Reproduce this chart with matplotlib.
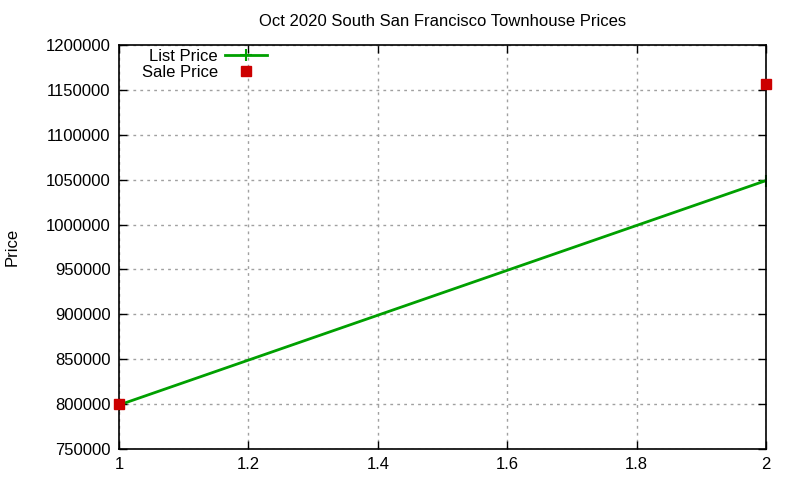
import matplotlib
matplotlib.use("Agg")
import matplotlib.pyplot as plt

plt.rcParams['font.family'] = ['Liberation Sans', 'DejaVu Sans']

x_list = [1, 2]
list_price = [799000, 1049000]
x_sale = [1, 2]
sale_price = [800000, 1157000]

fig = plt.figure(figsize=(8, 4.8), dpi=100)
ax = fig.add_axes([0.14875, 0.0646, 0.80875, 0.8416])

ax.plot(x_list, list_price, color='#00a000', linewidth=2, marker='+',
        markersize=9, markeredgewidth=1.5, label='List Price')
ax.plot(x_sale, sale_price, linestyle='none', marker='s', color='#cc0000',
        markersize=7, label='Sale Price', clip_on=False, zorder=5)

ax.set_xlim(1, 2)
ax.set_ylim(750000, 1200000)
ax.set_xticks([1, 1.2, 1.4, 1.6, 1.8, 2])
ax.set_xticklabels(['1', '1.2', '1.4', '1.6', '1.8', '2'])
ax.set_yticks(range(750000, 1200001, 50000))
ax.set_yticklabels([str(v) for v in range(750000, 1200001, 50000)])

ax.grid(True, color='#a0a0a0', linestyle=(0, (2, 3)), linewidth=1)
ax.tick_params(direction='in', top=True, right=True, length=6, width=1,
               labelsize=12, colors='black')
ax.tick_params(axis='x', pad=6)
ax.tick_params(axis='y', pad=6)
for s in ax.spines.values():
    s.set_linewidth(1.2)

ax.set_ylabel('Price', fontsize=12, labelpad=19)
ax.set_title('Oct 2020 South San Francisco Townhouse Prices', fontsize=12, pad=14)

leg = ax.legend(loc='upper left', bbox_to_anchor=(0.022, 1.012), markerfirst=False,
                frameon=False, fontsize=12, handlelength=2.5, borderaxespad=0.1,
                labelspacing=0.1, handletextpad=0.45)
for t in leg.get_texts():
    t.set_ha('right')
leg._legend_box.align = 'right'

fig.savefig('out.png')
